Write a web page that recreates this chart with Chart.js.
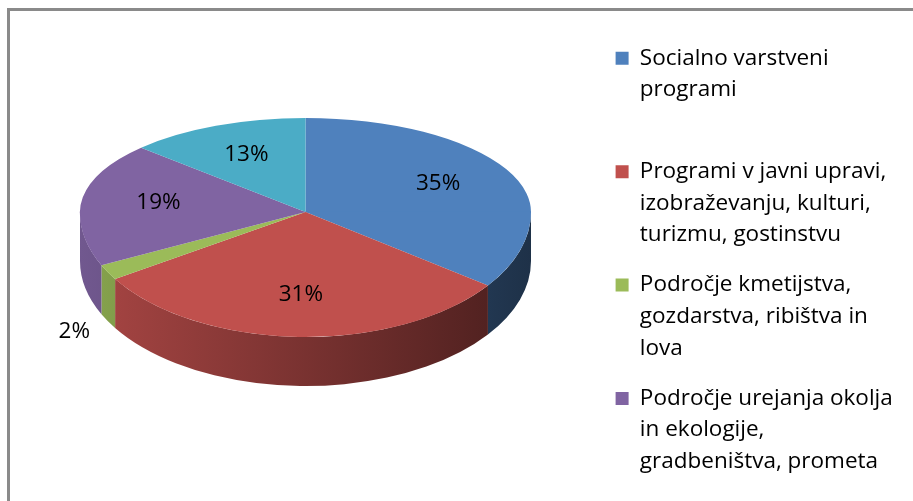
<!DOCTYPE html>
<html><head><meta charset="utf-8">
<script src="https://cdn.jsdelivr.net/npm/chart.js@4.4.1/dist/chart.umd.min.js"></script>
<style>
html,body{margin:0;padding:0;background:#fff;overflow:hidden}
#wrap{position:relative;width:913px;height:501px}
#frame{position:absolute;left:7px;top:8px;width:1000px;height:1000px;border-top:3px solid #8a8a8a;border-left:3px solid #8a8a8a;pointer-events:none}
canvas{position:absolute;left:0;top:0}
</style></head><body>
<div id="wrap"><canvas id="c" width="913" height="501"></canvas><div id="frame"></div></div>
<script>
// ---- data ----
const categories = [
  'Socialno varstveni programi',
  'Programi v javni upravi, izobraževanju, kulturi, turizmu, gostinstvu',
  'Področje kmetijstva, gozdarstva, ribištva in lova',
  'Področje urejanja okolja in ekologije, gradbeništva, prometa',
  'Drugo'
];
const shares = [35, 31, 2, 19, 13];
const legendLines = [
  ['Socialno varstveni', 'programi', ''],
  ['Programi v javni upravi,', 'izobraževanju, kulturi,', 'turizmu, gostinstvu'],
  ['Področje kmetijstva,', 'gozdarstva, ribištva in', 'lova'],
  ['Področje urejanja okolja', 'in ekologije,', 'gradbeništva, prometa']
];
const colors = ['#4F81BD', '#C0504D', '#9BBB59', '#8064A2', '#4BACC6'];

// ---- style ----
const FONT = 'Open Sans';
const FONT_SIZE = 22.5;
const BOX = 13, PAD = 18.6, LEGEND_LEFT = 597, CANVAS_W = 913;
const view = { radius: 225.5, far: 94 / 225.5, near: 125 / 225.5, depth: 49, apexY: 212,
               shadeLeft: 0.88, shadeRight: 0.38, labelIn: 0.66, labelOut: 1.17 };

// width the legend box will take (same rule Chart.js uses), so it starts at LEGEND_LEFT
const mctx = document.createElement('canvas').getContext('2d');
mctx.font = `${FONT_SIZE}px "${FONT}"`;
const longest = Math.max(...legendLines.map(l => mctx.measureText(l.reduce((a, b) => a.length > b.length ? a : b)).width));
const legendW = PAD + BOX + FONT_SIZE / 2 + longest + 10;
const padRight = Math.max(0, CANVAS_W - LEGEND_LEFT - legendW);

function shade(hex, f) {
  const n = parseInt(hex.slice(1), 16);
  const r = Math.round(((n >> 16) & 255) * f), g = Math.round(((n >> 8) & 255) * f), b = Math.round((n & 255) * f);
  return `rgb(${r},${g},${b})`;
}

const pie3d = {
  id: 'pie3d',
  beforeDatasetsDraw(chart) {
    const ctx = chart.ctx;
    const meta = chart.getDatasetMeta(0);
    const arcs = meta.data;
    const a0 = arcs[0];
    const cx = a0.x, cy = view.apexY, R = a0.outerRadius;
    const ryN = R * view.near, D = view.depth;
    // side walls (front half)
    arcs.forEach((arc, i) => {
      const s = Math.max(arc.startAngle, 0), e = Math.min(arc.endAngle, Math.PI);
      if (e <= s) return;
      const g = ctx.createLinearGradient(cx - R, 0, cx + R, 0);
      g.addColorStop(0, shade(colors[i], view.shadeLeft));
      g.addColorStop(1, shade(colors[i], view.shadeRight));
      ctx.save();
      ctx.beginPath();
      ctx.ellipse(cx, cy, R, ryN, 0, s, e, false);
      ctx.ellipse(cx, cy + D, R, ryN, 0, e, s, true);
      ctx.closePath();
      ctx.fillStyle = g;
      ctx.fill();
      ctx.restore();
    });
    // top surface: far half and near half
    ctx.save();
    ctx.beginPath(); ctx.rect(0, 0, chart.width, cy + 0.5); ctx.clip();
    ctx.translate(cx, cy); ctx.scale(1, view.far); ctx.translate(-a0.x, -a0.y);
    meta.controller.draw();
    ctx.restore();
    ctx.save();
    ctx.beginPath(); ctx.rect(0, cy - 0.5, chart.width, chart.height); ctx.clip();
    ctx.translate(cx, cy); ctx.scale(1, view.near); ctx.translate(-a0.x, -a0.y);
    meta.controller.draw();
    ctx.restore();
    // percentage labels
    const total = shares.reduce((a, b) => a + b, 0);
    ctx.save();
    ctx.font = `${FONT_SIZE}px "${FONT}"`;
    ctx.fillStyle = '#000';
    ctx.textAlign = 'center';
    ctx.textBaseline = 'middle';
    arcs.forEach((arc, i) => {
      const pct = Math.round(shares[i] / total * 100);
      const mid = (arc.startAngle + arc.endAngle) / 2;
      const small = pct < 5;
      const f = small ? view.labelOut : view.labelIn;
      const sy = Math.sin(mid);
      const x = cx + R * f * Math.cos(mid);
      let y = cy + R * f * sy * (sy < 0 ? view.far : view.near);
      if (small) y += D;
      ctx.fillText(pct + '%', x, y);
    });
    ctx.restore();
    return false;
  }
};

new Chart(document.getElementById('c'), {
  type: 'pie',
  data: {
    labels: categories,
    datasets: [{ data: shares, backgroundColor: colors, borderWidth: 0, radius: view.radius }]
  },
  plugins: [pie3d],
  options: {
    responsive: false,
    animation: false,
    layout: { padding: { left: 14, right: padRight, top: 28.4, bottom: 0 } },
    plugins: {
      tooltip: { enabled: false },
      legend: {
        position: 'right',
        align: 'start',
        maxWidth: 600,
        labels: {
          boxWidth: BOX, boxHeight: BOX, padding: PAD, color: '#000',
          font: { family: FONT, size: FONT_SIZE, lineHeight: 31.6 / FONT_SIZE },
          generateLabels(chart) {
            return legendLines.map((lines, i) => ({
              text: lines, fillStyle: colors[i], strokeStyle: colors[i], lineWidth: 0,
              hidden: false, index: i, fontColor: '#000'
            }));
          }
        }
      }
    }
  }
});
</script>
</body></html>
